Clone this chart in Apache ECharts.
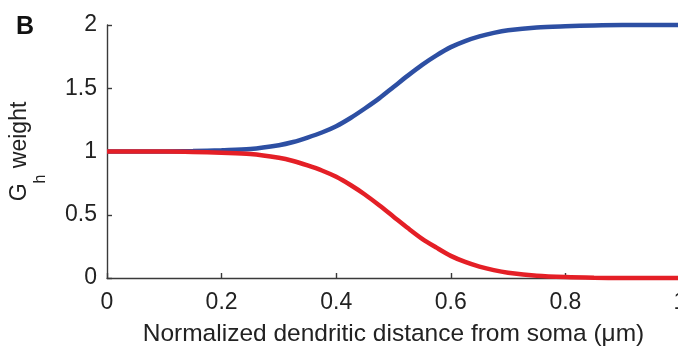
<!DOCTYPE html>
<html><head><meta charset="utf-8">
<script src="https://cdn.jsdelivr.net/npm/echarts@6/dist/echarts.min.js"></script>
<style>html,body{margin:0;padding:0;background:#fff}#c{width:678px;height:347px}</style>
</head><body><div id="c"></div>
<script>
const xValues    = [0, 0.05, 0.1, 0.15, 0.2, 0.25, 0.3, 0.325, 0.35, 0.375, 0.4, 0.425, 0.45, 0.475, 0.5, 0.525, 0.55, 0.575, 0.6, 0.625, 0.65, 0.675, 0.7, 0.75, 0.8, 0.85, 0.9, 0.95, 1];
const blueValues = [1, 1, 1, 1.003, 1.01, 1.02, 1.05, 1.075, 1.11, 1.15, 1.20, 1.265, 1.34, 1.42, 1.51, 1.60, 1.685, 1.76, 1.825, 1.873, 1.91, 1.938, 1.958, 1.98, 1.99, 1.997, 2, 2, 2];
const redValues  = [1, 1, 1, 0.997, 0.99, 0.98, 0.95, 0.925, 0.89, 0.85, 0.80, 0.735, 0.66, 0.575, 0.485, 0.395, 0.31, 0.24, 0.175, 0.127, 0.09, 0.062, 0.042, 0.018, 0.007, 0.002, 0, 0, 0];
const xTickLabels = ['0', '0.2', '0.4', '0.6', '0.8', '1'];
const yTickLabels = ['0', '0.5', '1', '1.5', '2'];
const xName = 'Normalized dendritic distance from soma (μm)';
const panelLabel = 'B';

const FONT = 'Liberation Sans, Arial, Helvetica, sans-serif';
const TXT = '#222';
const chart = echarts.init(document.getElementById('c'));
chart.setOption({
  animation: false,
  backgroundColor: '#fff',
  grid: { left: 107, right: -2, top: 25, bottom: 69, containLabel: false, outerBoundsMode: 'none' },
  graphic: [{
    type: 'text', left: 16, top: 15,
    style: { text: panelLabel, font: 'bold 25px ' + FONT, fill: '#111' }
  }],
  xAxis: {
    type: 'value', min: 0, max: 1, interval: 0.2,
    name: xName, nameLocation: 'middle', nameGap: 44,
    nameTextStyle: { fontSize: 24.5, fontFamily: FONT, color: TXT },
    axisLine: { show: true, lineStyle: { color: '#3a3a3a', width: 1.4 } },
    axisTick: { show: true, inside: true, length: 5, lineStyle: { color: '#3a3a3a', width: 1.4 } },
    axisLabel: { fontSize: 23, fontFamily: FONT, color: TXT, margin: 13,
      formatter: v => xTickLabels[Math.round(v / 0.2)] },
    splitLine: { show: false }
  },
  yAxis: {
    type: 'value', min: 0, max: 2, interval: 0.5,
    name: '{g|G}{s|h}{g| weight}', nameLocation: 'middle', nameGap: 58,
    nameTextStyle: {
      rich: {
        g: { fontSize: 23, fontFamily: FONT, color: TXT, lineHeight: 26, verticalAlign: 'middle' },
        s: { fontSize: 16, fontFamily: FONT, color: TXT, lineHeight: 58, verticalAlign: 'bottom' }
      }
    },
    axisLine: { show: true, lineStyle: { color: '#3a3a3a', width: 1.4 } },
    axisTick: { show: true, inside: true, length: 5, lineStyle: { color: '#3a3a3a', width: 1.4 } },
    axisLabel: { fontSize: 23, fontFamily: FONT, color: TXT, margin: 10,
      formatter: v => yTickLabels[Math.round(v / 0.5)] },
    splitLine: { show: false }
  },
  series: [
    { type: 'line', data: xValues.map((x, i) => [x, blueValues[i]]), showSymbol: false, smooth: 0.3, clip: false,
      lineStyle: { color: '#2d4fa3', width: 4.5 } },
    { type: 'line', data: xValues.map((x, i) => [x, redValues[i]]), showSymbol: false, smooth: 0.3, clip: false,
      lineStyle: { color: '#e41f26', width: 4.5 } }
  ]
});
</script></body></html>
